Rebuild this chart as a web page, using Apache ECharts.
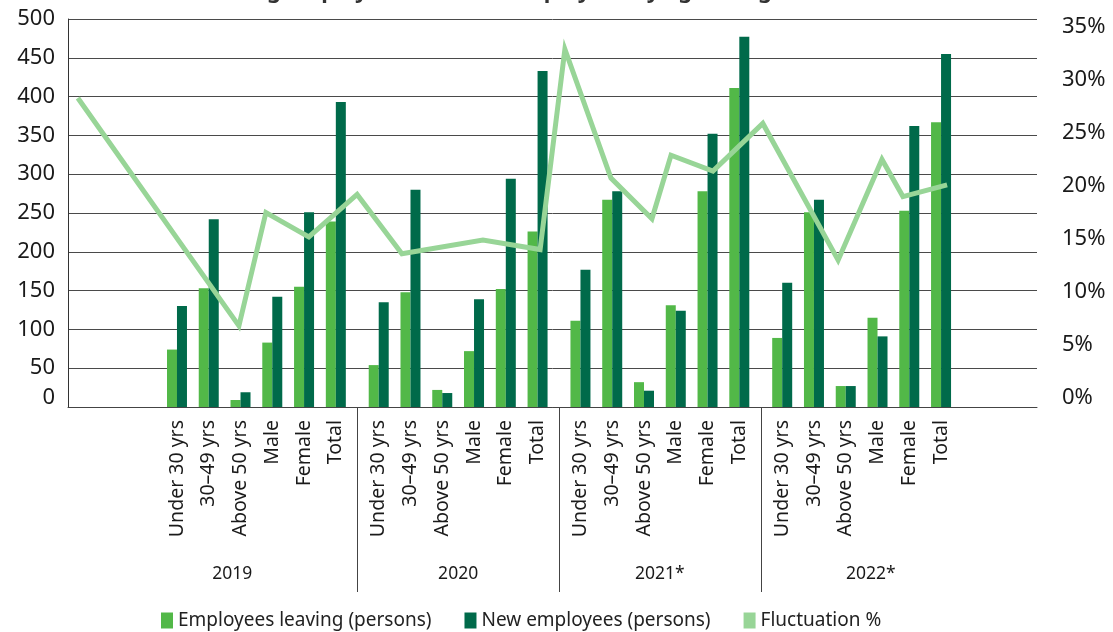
<!DOCTYPE html>
<html>
<head>
<meta charset="utf-8">
<script src="https://cdn.jsdelivr.net/npm/echarts@6/dist/echarts.min.js"></script>
<style>
  html, body { margin: 0; padding: 0; background: #fff; }
  #chart { width: 1113px; height: 632px; }
</style>
</head>
<body>
<div id="chart"></div>
<script>
// ---- data ----
const categories = ['Under 30 yrs', '30–49 yrs', 'Above 50 yrs', 'Male', 'Female', 'Total'];
const years = ['2019', '2020', '2021*', '2022*'];
// Employees leaving (persons), 6 categories per year in order 2019..2022
const leaving = [74, 153, 9, 83, 155, 239,
                 54, 148, 22, 72, 152, 226,
                 111, 267, 32, 131, 278, 411,
                 89, 251, 27, 115, 253, 367];
// New employees (persons)
const newHires = [130, 242, 19, 142, 251, 393,
                  135, 280, 18, 139, 294, 433,
                  177, 278, 21, 124, 352, 477,
                  160, 267, 27, 91, 362, 455];
// Fluctuation % line: position along the category slots and value
const fluctX = [-3.12, 1.95, 2.80, 4.15, 5.67, 7.08, 9.63, 11.43, 12.21,
                13.66, 14.95, 15.55, 16.87, 18.44, 20.81, 22.19, 22.85, 24.24];
const fluctPct = [28.3, 6.8, 17.5, 15.2, 19.2, 13.6, 14.9, 14.0, 32.9,
                  20.75, 16.9, 22.9, 21.4, 25.9, 13.0, 22.5, 19.0, 20.1];
const leftTicks = [0, 50, 100, 150, 200, 250, 300, 350, 400, 450, 500];
const rightTicks = [0, 5, 10, 15, 20, 25, 30, 35];

// ---- layout helpers ----
const GROUP = 6.35;                       // slot width of one year group (6 categories + gap)
const xOf = (g, i) => +(g * GROUP + i).toFixed(2);
const slotLabel = {};
const slots = [];
years.forEach((y, g) => categories.forEach((c, i) => {
  const x = xOf(g, i); slots.push(x); slotLabel[x.toFixed(2)] = c;
}));
const separators = [0, 1, 2].map(g => +(g * GROUP + 5.675).toFixed(3));
const yearBounds = [-2.2, ...separators, 25.3];
const yearPos = years.map((y, g) => +((yearBounds[g] + yearBounds[g + 1]) / 2).toFixed(3));
const yearLabel = {};
yearPos.forEach((p, g) => { yearLabel[p.toFixed(3)] = years[g]; });

const XMIN = -3.43, XMAX = 27.07;
const FONT = 'Noto Sans';

const barData = arr => arr.map((v, k) => [xOf(Math.floor(k / 6), k % 6), v]);

const chart = echarts.init(document.getElementById('chart'), null, { renderer: 'canvas' });
chart.setOption({
  animation: false,
  backgroundColor: '#ffffff',
  textStyle: { fontFamily: FONT },
  title: {
    text: 'Leaving employees and new employees by age and gender',
    left: 190, top: -24,
    textStyle: { fontFamily: FONT, fontSize: 22, fontWeight: 'bold', color: '#333' }
  },
  grid: { left: 68, right: 76, top: 19, bottom: 225, outerBoundsMode: 'none' },
  legend: {
    left: 156, top: 606,
    itemWidth: 12, itemHeight: 16, itemGap: 33,
    textStyle: { fontFamily: FONT, fontSize: 19, color: '#222' },
    data: [
      { name: 'Employees leaving (persons)', icon: 'rect' },
      { name: 'New employees (persons)', icon: 'rect' },
      { name: 'Fluctuation %', icon: 'rect' }
    ]
  },
  xAxis: [
    {
      type: 'value', min: XMIN, max: XMAX, position: 'bottom',
      axisLine: { show: true, onZero: false, lineStyle: { color: '#444', width: 1 } },
      axisTick: { show: false },
      splitLine: { show: false },
      axisLabel: {
        customValues: slots, rotate: 90, margin: 13,
        fontFamily: FONT, fontSize: 19.5, color: '#1a1a1a',
        formatter: v => slotLabel[(+v).toFixed(2)] || ''
      }
    },
    {
      type: 'value', min: XMIN, max: XMAX, position: 'bottom',
      axisLine: { show: false, onZero: false },
      axisTick: { show: true, customValues: separators, length: 185, inside: false,
                  lineStyle: { color: '#444', width: 1 } },
      splitLine: { show: false },
      axisLabel: {
        customValues: yearPos, margin: 158,
        fontFamily: FONT, fontSize: 17.5, color: '#1a1a1a',
        formatter: v => yearLabel[(+v).toFixed(3)] || ''
      }
    }
  ],
  yAxis: [
    {
      type: 'value', min: 0, max: 500, interval: 50, position: 'left',
      axisLine: { show: true, onZero: false, lineStyle: { color: '#333', width: 1 } },
      axisTick: { show: false },
      splitLine: { show: true, lineStyle: { color: '#4a4a4a', width: 1 } },
      axisLabel: {
        customValues: leftTicks, margin: 13,
        fontFamily: FONT, fontSize: 22, color: '#1a1a1a',
        formatter: v => v === 0 ? '{z|0}' : String(v),
        rich: { z: { fontFamily: FONT, fontSize: 22, color: '#1a1a1a', padding: [0, 0, 18, 0] } }
      }
    },
    {
      type: 'value', min: -0.85, max: 35.75, position: 'right',
      axisLine: { show: false, onZero: false },
      axisTick: { show: false },
      splitLine: { show: false },
      axisLabel: {
        customValues: rightTicks, margin: 25,
        fontFamily: FONT, fontSize: 22, color: '#1a1a1a',
        formatter: v => Math.round(v) + '%'
      }
    }
  ],
  series: [
    {
      name: 'Employees leaving (persons)', type: 'bar',
      xAxisIndex: 0, yAxisIndex: 0,
      barWidth: 10, barGap: '0%',
      itemStyle: { color: '#52b848' },
      data: barData(leaving)
    },
    {
      name: 'New employees (persons)', type: 'bar',
      xAxisIndex: 0, yAxisIndex: 0,
      barWidth: 10, barGap: '0%',
      itemStyle: { color: '#006a4a' },
      data: barData(newHires)
    },
    {
      name: 'Fluctuation %', type: 'line',
      xAxisIndex: 0, yAxisIndex: 1,
      showSymbol: false, symbol: 'none', z: 5,
      lineStyle: { color: '#98d597', width: 5, join: 'miter' },
      itemStyle: { color: '#98d597' },
      data: fluctX.map((x, k) => [x, fluctPct[k]])
    }
  ]
});
</script>
</body>
</html>
